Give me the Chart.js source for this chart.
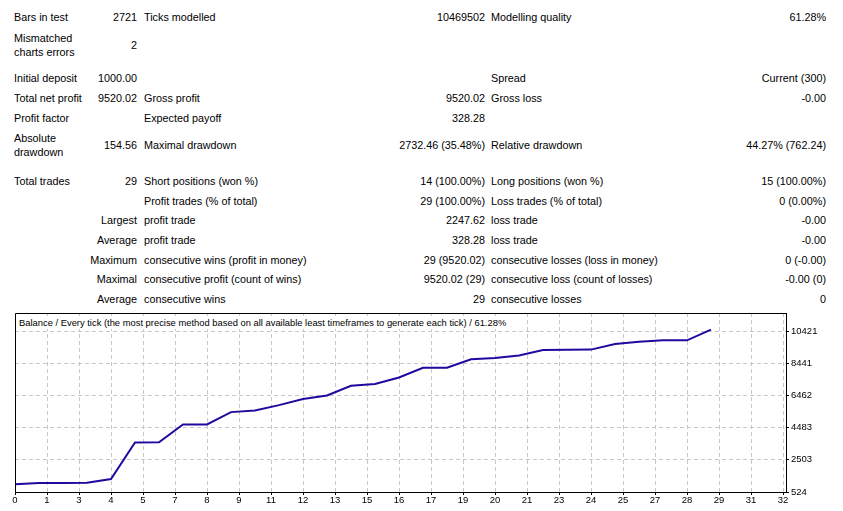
<!DOCTYPE html>
<html>
<head>
<meta charset="utf-8">
<script src="https://cdn.jsdelivr.net/npm/chart.js@4.4.0/dist/chart.umd.min.js"></script>
<style>
  body { margin: 0; background: #fff; }
  #page { position: relative; width: 843px; height: 511px; font-family: "Liberation Sans", Arial, sans-serif; font-size: 10.8px; color: #000; }
  .row { position: absolute; left: 0; width: 843px; }
  .cell { position: absolute; top: 0; height: 100%; display: flex; align-items: center; white-space: pre; line-height: 14px; }
  .r { justify-content: flex-end; text-align: right; }
  #chartTitle { position: absolute; left: 18px; top: 315.5px; font-size: 9.4px; line-height: 13px; background: #fff; padding: 0 2px 0 1px; white-space: pre; z-index: 2; }
  #balanceChart { position: absolute; left: 0; top: 300px; }
</style>
</head>
<body>
<div id="page">
  <div id="report"></div>
  <canvas id="balanceChart" width="843" height="211"></canvas>
  <div id="chartTitle"></div>
</div>
<script>
// report table text
var reportRows = [
  ["Bars in test", "2721", "Ticks modelled", "10469502", "Modelling quality", "61.28%"],
  ["Mismatched\ncharts errors", "2", "", "", "", ""],
  ["Initial deposit", "1000.00", "", "", "Spread", "Current (300)"],
  ["Total net profit", "9520.02", "Gross profit", "9520.02", "Gross loss", "-0.00"],
  ["Profit factor", "", "Expected payoff", "328.28", "", ""],
  ["Absolute\ndrawdown", "154.56", "Maximal drawdown", "2732.46 (35.48%)", "Relative drawdown", "44.27% (762.24)"],
  ["Total trades", "29", "Short positions (won %)", "14 (100.00%)", "Long positions (won %)", "15 (100.00%)"],
  ["", "", "Profit trades (% of total)", "29 (100.00%)", "Loss trades (% of total)", "0 (0.00%)"],
  ["", "Largest", "profit trade", "2247.62", "loss trade", "-0.00"],
  ["", "Average", "profit trade", "328.28", "loss trade", "-0.00"],
  ["", "Maximum", "consecutive wins (profit in money)", "29 (9520.02)", "consecutive losses (loss in money)", "0 (-0.00)"],
  ["", "Maximal", "consecutive profit (count of wins)", "9520.02 (29)", "consecutive loss (count of losses)", "-0.00 (0)"],
  ["", "Average", "consecutive wins", "29", "consecutive losses", "0"]
];

// chart data
var chartTitle = "Balance / Every tick (the most precise method based on all available least timeframes to generate each tick) / 61.28%";
var trades = [0, 1, 2, 3, 4, 5, 6, 7, 8, 9, 10, 11, 12, 13, 14, 15, 16, 17, 18, 19, 20, 21, 22, 23, 24, 25, 26, 27, 28, 29];
var balance = [1000, 1080, 1085, 1100, 1326, 3574, 3590, 4678, 4682, 5444, 5543, 5876, 6246, 6469, 7067, 7172, 7580, 8179, 8183, 8703, 8777, 8938, 9271, 9290, 9294, 9642, 9784, 9864, 9868, 10520.02];
var xTickLabels = [0, 1, 3, 4, 5, 7, 8, 9, 11, 12, 13, 15, 16, 17, 19, 20, 21, 23, 24, 25, 27, 28, 29, 31, 32];
var yTickLabels = [524, 2503, 4483, 6462, 8441, 10421];

// layout of the table (pixel centers of rows, column edges)
var rowCenters = [17, 44.5, 78.3, 98, 118, 144.5, 180.5, 200.5, 220, 239.7, 259.5, 279.3, 299];
var cols = [
  { left: 14, right: null },
  { left: 60, right: 137 },
  { left: 144, right: null },
  { left: 300, right: 485 },
  { left: 491, right: null },
  { left: 660, right: 826 }
];

var report = document.getElementById('report');
reportRows.forEach(function (row, i) {
  var h = 28;
  var div = document.createElement('div');
  div.className = 'row';
  div.style.top = (rowCenters[i] - h / 2) + 'px';
  div.style.height = h + 'px';
  row.forEach(function (txt, j) {
    if (!txt) return;
    var c = document.createElement('div');
    var col = cols[j];
    c.className = 'cell' + (col.right ? ' r' : '');
    if (col.right) {
      c.style.right = (843 - col.right) + 'px';
    } else {
      c.style.left = col.left + 'px';
    }
    c.textContent = txt;
    div.appendChild(c);
  });
  report.appendChild(div);
});

document.getElementById('chartTitle').textContent = chartTitle;

var framePlugin = {
  id: 'frame',
  afterDraw: function (chart) {
    var a = chart.chartArea, ctx = chart.ctx;
    ctx.save();
    ctx.strokeStyle = '#000';
    ctx.lineWidth = 1;
    ctx.beginPath();
    ctx.moveTo(Math.round(a.left) + 0.5, Math.round(a.bottom) + 0.5);
    ctx.lineTo(Math.round(a.left) + 0.5, Math.round(a.top) + 0.5);
    ctx.lineTo(Math.round(a.right) + 0.5, Math.round(a.top) + 0.5);
    ctx.stroke();
    ctx.restore();
  }
};

var ctx = document.getElementById('balanceChart').getContext('2d');
var myChart = new Chart(ctx, {
  type: 'line',
  data: {
    datasets: [{
      label: 'Balance',
      data: trades.map(function (t, i) { return { x: t, y: balance[i] }; }),
      borderColor: '#1e0a9e',
      borderWidth: 2,
      pointRadius: 0,
      tension: 0,
      fill: false
    }]
  },
  options: {
    responsive: false,
    animation: false,
    devicePixelRatio: 1,
    layout: { padding: { left: 15, top: 13, right: 0, bottom: 0 } },
    plugins: { legend: { display: false }, tooltip: { enabled: false } },
    scales: {
      x: {
        type: 'linear',
        min: 0,
        max: 32.125,
        afterBuildTicks: function (scale) {
          scale.ticks = xTickLabels.map(function (l, i) { return { value: i * 4 / 3 }; });
        },
        afterFit: function (scale) { scale.height = 19; },
        ticks: {
          autoSkip: false,
          maxRotation: 0,
          padding: 0,
          color: '#000',
          font: { family: 'Liberation Sans', size: 9.5 },
          callback: function (v, i) { return String(xTickLabels[i]); }
        },
        grid: { color: '#c8c8c8', tickColor: '#000', tickLength: 3, tickBorderDash: [] },
        border: { display: true, color: '#000', dash: [4, 3] }
      },
      y: {
        type: 'linear',
        position: 'right',
        min: 524,
        max: 11549,
        afterBuildTicks: function (scale) {
          scale.ticks = yTickLabels.map(function (v) { return { value: v }; });
        },
        afterFit: function (scale) { scale.width = 57; },
        ticks: {
          padding: 2,
          color: '#000',
          font: { family: 'Liberation Sans', size: 9.5 },
          callback: function (v, i) { return String(yTickLabels[i]); }
        },
        grid: { color: '#c8c8c8', tickColor: '#000', tickLength: 3, tickBorderDash: [] },
        border: { display: true, color: '#000', dash: [4, 3] }
      }
    }
  },
  plugins: [framePlugin]
});
</script>
</body>
</html>
